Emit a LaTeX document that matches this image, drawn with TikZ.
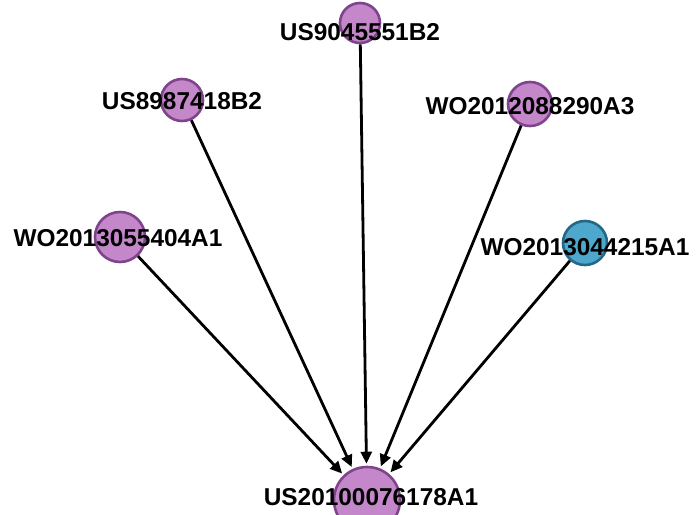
\documentclass[tikz,border=0pt]{standalone}
\usepackage{fontspec}
\setmainfont{Liberation Sans}
\usetikzlibrary{arrows.meta}

\definecolor{patfill}{RGB}{196,136,202}
\definecolor{patline}{RGB}{128,68,140}
\definecolor{citefill}{RGB}{78,168,206}
\definecolor{citeline}{RGB}{36,104,136}

\tikzset{
    patent/.style={circle, draw=patline, fill=patfill, line width=1.3pt, inner sep=0pt},
    citing/.style={circle, draw=citeline, fill=citefill, line width=1.3pt, inner sep=0pt},
    lbl/.style={font=\bfseries\fontsize{12.2}{14}\selectfont, inner sep=0pt},
    cite/.style={-{Triangle[length=6pt,width=5.5pt]}, line width=1.4pt, black, shorten >=1pt}
}

\begin{document}
\begin{tikzpicture}[x=0.5pt, y=-0.5pt]
        \useasboundingbox (0,0) rectangle (698,515);

        \node[patent, minimum size=33pt, label={[lbl,xshift=2pt,yshift=1.5pt]center:US20100076178A1}] (hub) at (367,500) {};

        \node[patent, minimum size=20pt, label={[lbl,yshift=-4.5pt]center:US9045551B2}] (us904) at (360,23) {};
        \node[patent, minimum size=21pt, label={[lbl,yshift=-0.5pt]center:US8987418B2}] (us898) at (182,100) {};
        \node[patent, minimum size=22pt, label={[lbl,yshift=-1pt]center:WO2012088290A3}] (wo088) at (530,104) {};
        \node[patent, minimum size=25pt, label={[lbl,xshift=-1pt,yshift=-0.5pt]center:WO2013055404A1}] (wo055) at (120,237) {};
        \node[citing, minimum size=22pt, label={[lbl,yshift=-2pt]center:WO2013044215A1}] (wo044) at (585,243) {};

        \draw[cite] (wo055) -- (hub);
        \draw[cite] (us898) -- (hub);
        \draw[cite] (us904) -- (hub);
        \draw[cite] (wo088) -- (hub);
        \draw[cite] (wo044) -- (hub);
\end{tikzpicture}
\end{document}
